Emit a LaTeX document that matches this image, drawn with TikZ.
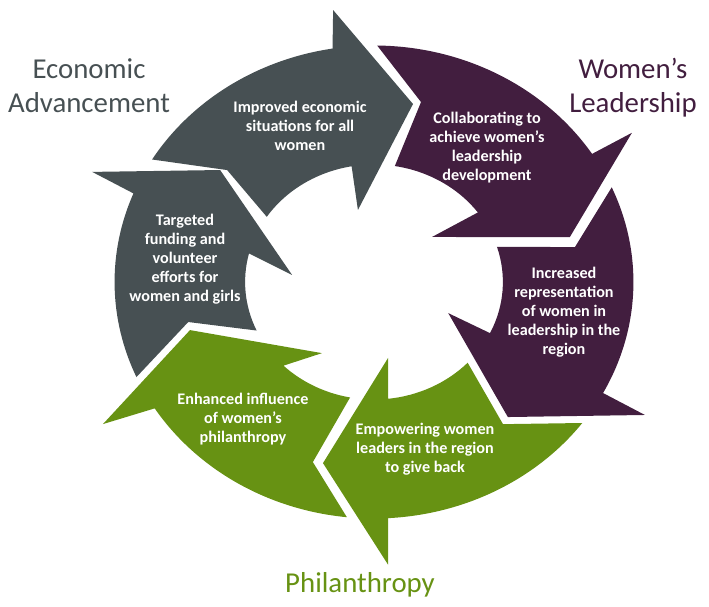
\documentclass[tikz,border=0pt]{standalone}
\usepackage{fontspec}
\setmainfont{Carlito}
\definecolor{cE}{RGB}{71,80,83}
\definecolor{cW}{RGB}{66,30,63}
\definecolor{cP}{RGB}{103,146,19}
\newcommand{\rOut}{4.73}
\newcommand{\rIn}{2.35}
\tikzset{mysegment/.style={
  fill=#1,
  draw=none,
  }
}
\tikzset{mytext/.style={
  align=center,
  text=white,
  inner sep=0pt,
  font=\fontsize{9.2}{10.8}\selectfont\bfseries,
  }
}
\tikzset{mytitle/.style={
  align=center,
  text=#1,
  inner sep=0pt,
  font=\fontsize{16.4}{19.3}\selectfont,
  }
}

\begin{document}
\begin{tikzpicture}[]
  \useasboundingbox (-7.48,-6.48) rectangle (6.70,5.64);

  % the six curved arrows, drawn round the ring clockwise
  \begin{scope}[xscale=1.097]
    % economic advancement
    \fill[mysegment=cE] (148.8:\rOut) arc[start angle=148.8, end angle=99.2, radius=\rOut]
      -- (97.8:5.49) -- (78.7:3.63) -- (101.5:1.47) -- (100:\rIn)
      arc[start angle=100, end angle=146.3, radius=\rIn] -- (140.1:3.49) -- cycle;
    % women's leadership
    \fill[mysegment=cW] (89.3:\rOut) arc[start angle=89.3, end angle=32.8, radius=\rOut]
      -- (32.4:5.57) -- (14.1:3.68) -- (40.4:1.39) -- (36.3:\rIn)
      arc[start angle=36.3, end angle=80.7, radius=\rIn] -- (76.6:3.70) -- cycle;
    \fill[mysegment=cW] (23.6:\rOut) arc[start angle=23.6, end angle=-28, radius=\rOut]
      -- (-28.3:5.61) -- (-47.9:3.64) -- (-24.7:1.49) -- (-25.8:\rIn)
      arc[start angle=-25.8, end angle=17.4, radius=\rIn] -- (10.8:3.73) -- cycle;
    % philanthropy
    \fill[mysegment=cP] (-36.6:\rOut) arc[start angle=-36.6, end angle=-86.9, radius=\rOut]
      -- (-87.4:5.66) -- (-104.4:3.74) -- (-80.4:1.54) -- (-83.7:\rIn)
      arc[start angle=-83.7, end angle=-43.4, radius=\rIn] -- (-50.4:3.69) -- cycle;
    \fill[mysegment=cP] (-96:\rOut) arc[start angle=-96, end angle=-147.7, radius=\rOut]
      -- (-150.1:5.70) -- (-164:3.49) -- (-123.7:1.71) -- (-134.6:\rIn)
      arc[start angle=-134.6, end angle=-100.7, radius=\rIn] -- (-107.2:3.77) -- cycle;
    % back to economic advancement
    \fill[mysegment=cE] (-156.3:\rOut) arc[start angle=-156.3, end angle=-202, radius=\rOut]
      -- (-203.2:5.59) -- (-218.6:3.59) -- (-185.4:1.50) -- (-194.1:\rIn)
      arc[start angle=-194.1, end angle=-155.6, radius=\rIn] -- (-166.7:3.48) -- cycle;
  \end{scope}

  \node [mytext] (t1) at (-1.48,3.12) {Improved economic\\situations for all\\women};
  \node [mytext] (t2) at (2.26,2.68) {Collaborating to\\achieve women’s\\leadership\\development};
  \node [mytext] (t3) at (3.80,-0.60) {Increased\\representation\\of women in\\leadership in the\\region};
  \node [mytext] (t4) at (1.02,-3.34) {Empowering women\\leaders in the region\\to give back};
  \node [mytext] (t5) at (-2.62,-2.74) {Enhanced influence\\of women’s\\philanthropy};
  \node [mytext] (t6) at (-3.78,0.46) {Targeted\\funding and\\volunteer\\efforts for\\women and girls};

  \node [mytitle=cE] (econ) at (-5.70,3.92) {Economic\\Advancement};
  \node [mytitle=cW] (lead) at (5.18,3.88) {Women’s\\Leadership};
  \node [mytitle=cP] (phil) at (-0.28,-6.06) {Philanthropy};
\end{tikzpicture}
\end{document}
